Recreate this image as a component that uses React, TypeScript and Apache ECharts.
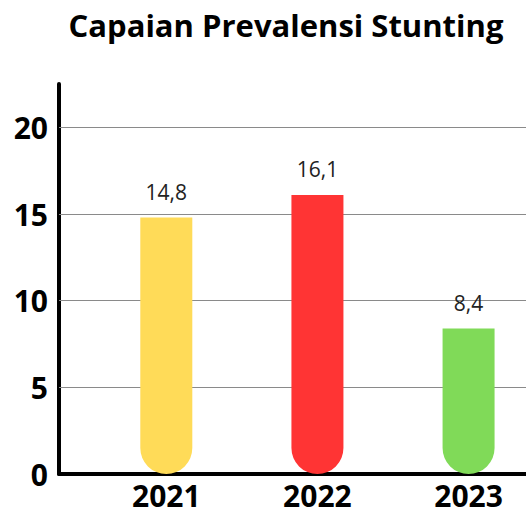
import React, { useEffect, useRef } from "react";
import * as echarts from "echarts";

const categories = ["2021", "2022", "2023"];
const values = [14.8, 16.1, 8.4];
const colors = ["#FFDB58", "#FF3434", "#80DA58"];
const yTicks = [0, 5, 10, 15, 20];
const gridValues = [5, 10, 15, 20];

export default function App() {
  const ref = useRef<HTMLDivElement>(null);
  useEffect(() => {
    if (!ref.current) return;
    const chart = echarts.init(ref.current, null, { renderer: "svg" });
    const font = "'Open Sans', sans-serif";
    chart.setOption({
      animation: false,
      title: {
        text: "Capaian Prevalensi Stunting",
        left: 281,
        textAlign: "center",
        top: 4,
        textStyle: { fontFamily: font, fontWeight: "bold", fontSize: 31, color: "#000" },
      },
      grid: { left: 59, right: 0, top: 84, bottom: 41 },
      xAxis: {
        type: "value",
        min: -0.71,
        max: 2.38,
        splitLine: { show: false },
        axisLine: { show: true, onZero: false, lineStyle: { color: "#000", width: 4 } },
        axisTick: { show: false },
        axisLabel: {
          customValues: categories.map((_, i) => i),
          formatter: (v: number) => categories[Math.round(v)] ?? "",
          fontFamily: font,
          fontWeight: "bold",
          fontSize: 30,
          color: "#000",
          margin: 6,
        },
      },
      yAxis: {
        type: "value",
        min: 0,
        max: 22.5,
        axisLine: { show: true, onZero: false, lineStyle: { color: "#000", width: 4 } },
        axisTick: { show: false },
        splitLine: { show: false },
        axisLabel: {
          customValues: yTicks,
          fontFamily: font,
          fontWeight: "bold",
          fontSize: 30,
          color: "#000",
          margin: 11,
        },
      },
      series: [
        {
          type: "bar",
          barWidth: 52,
          z: 3,
          data: values.map((v, i) => ({
            value: [i, v],
            itemStyle: { color: colors[i], borderRadius: [0, 0, 26, 26] },
          })),
          label: {
            show: true,
            position: "top",
            distance: 15,
            fontFamily: font,
            fontSize: 21,
            color: "#222",
            formatter: (p: any) => String(p.value[1]).replace(".", ","),
          },
          markLine: {
            silent: true,
            symbol: "none",
            z: 1,
            label: { show: false },
            lineStyle: { color: "#8a8a8a", width: 1, type: "solid" },
            data: gridValues.map((v) => ({ yAxis: v })),
          },
        },
      ],
    });
    return () => chart.dispose();
  }, []);
  return <div ref={ref} style={{ width: 526, height: 515, position: "absolute", left: 0, top: 0 }} />;
}
